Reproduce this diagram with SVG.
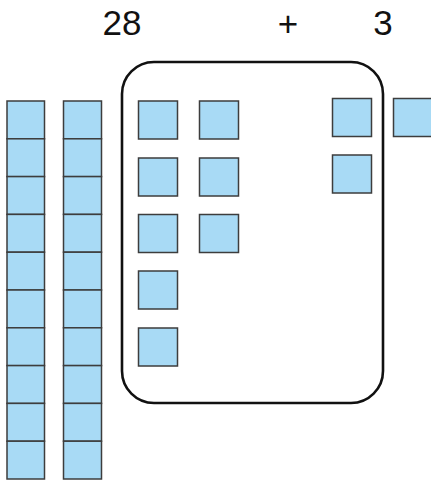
<svg xmlns="http://www.w3.org/2000/svg" width="431" height="483" viewBox="0 0 431 483">
<style>
.u{fill:#a8daf5;stroke:#3d3d3d;stroke-width:1.5}
.t{font-family:"Liberation Sans",Arial,sans-serif;font-size:35px;fill:#111;text-anchor:middle}
.b{fill:none;stroke:#111;stroke-width:2.6}
</style>
<defs>
<rect id="sq" class="u" width="39" height="38"/>
</defs>
<g id="labels">
<text class="t" x="122" y="35">28</text>
<text class="t" x="288" y="36">+</text>
<text class="t" x="383" y="35">3</text>
</g>
<g id="group-box"><rect class="b" x="122" y="62" width="261" height="341" rx="32"/></g>
<g id="ten-rod-1">
<rect class="u" x="7" y="101" width="37.5" height="37.8"/>
<rect class="u" x="7" y="138.8" width="37.5" height="37.8"/>
<rect class="u" x="7" y="176.6" width="37.5" height="37.8"/>
<rect class="u" x="7" y="214.4" width="37.5" height="37.8"/>
<rect class="u" x="7" y="252.2" width="37.5" height="37.8"/>
<rect class="u" x="7" y="290" width="37.5" height="37.8"/>
<rect class="u" x="7" y="327.8" width="37.5" height="37.8"/>
<rect class="u" x="7" y="365.6" width="37.5" height="37.8"/>
<rect class="u" x="7" y="403.4" width="37.5" height="37.8"/>
<rect class="u" x="7" y="441.2" width="37.5" height="37.8"/>
</g>
<g id="ten-rod-2">
<rect class="u" x="63.5" y="101" width="38" height="37.8"/>
<rect class="u" x="63.5" y="138.8" width="38" height="37.8"/>
<rect class="u" x="63.5" y="176.6" width="38" height="37.8"/>
<rect class="u" x="63.5" y="214.4" width="38" height="37.8"/>
<rect class="u" x="63.5" y="252.2" width="38" height="37.8"/>
<rect class="u" x="63.5" y="290" width="38" height="37.8"/>
<rect class="u" x="63.5" y="327.8" width="38" height="37.8"/>
<rect class="u" x="63.5" y="365.6" width="38" height="37.8"/>
<rect class="u" x="63.5" y="403.4" width="38" height="37.8"/>
<rect class="u" x="63.5" y="441.2" width="38" height="37.8"/>
</g>
<g id="ones-8">
<use href="#sq" x="138.5" y="101"/>
<use href="#sq" x="138.5" y="158"/>
<use href="#sq" x="138.5" y="214.5"/>
<use href="#sq" x="138.5" y="271"/>
<use href="#sq" x="138.5" y="328"/>
<use href="#sq" x="199.5" y="101"/>
<use href="#sq" x="199.5" y="158"/>
<use href="#sq" x="199.5" y="214.5"/>
</g>
<g id="ones-3">
<use href="#sq" x="332.5" y="98.5"/>
<use href="#sq" x="332.5" y="155"/>
<use href="#sq" x="393.5" y="98.5"/>
</g>
</svg>
